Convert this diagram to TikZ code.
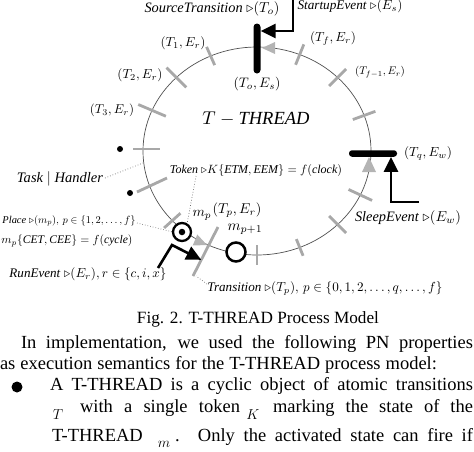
\documentclass[tikz,border=0pt]{standalone}
\usepackage{fontspec}
\setmainfont{Liberation Serif}
\usepackage{graphicx}
\usetikzlibrary{arrows.meta,calc}
\definecolor{tickgray}{RGB}{168,168,168}
\definecolor{headgray}{RGB}{180,180,180}
\definecolor{ringgray}{RGB}{80,80,80}
\definecolor{dotgray}{RGB}{110,110,110}
\newcommand\fw[2]{\resizebox{#1pt}{!}{#2}}
\newcommand\bodyfont{\fontsize{18.5pt}{18.5pt}\selectfont}
\newcommand\smallmath[1]{{\fontsize{15pt}{15pt}\selectfont$#1$}}
\begin{document}
\begin{tikzpicture}[x=1pt,y=-1pt,
  ring/.style={draw=ringgray,line width=0.7pt},
  tickline/.style={draw=tickgray,line width=2.8pt},
  dotlead/.style={draw=dotgray,line width=0.7pt,dotted},
  evarrow/.style={draw=black,line width=2.6pt,-{Triangle[length=15pt,width=14pt]}},
  lbl/.style={inner sep=0pt,outer sep=0pt},
  bodyline/.style={inner sep=0pt,outer sep=0pt,anchor=base west,font=\bodyfont},
  placenode/.style={circle,draw=black,fill=white,line width=2.3pt,minimum size=18pt,inner sep=0pt},
  tokennode/.style={circle,fill=black,minimum size=6.5pt,inner sep=0pt},
  barnode/.style={fill=black,inner sep=0pt},
  dotnode/.style={circle,fill=black,minimum size=6pt,inner sep=0pt}
]
\useasboundingbox (0,0) rectangle (474,451);

\coordinate (C) at (257,151);
% cycle
\draw[ring] (C) ellipse [x radius=114pt, y radius=104pt];

% ticks on the cycle
\foreach \a/\i/\o in {246/10/10, 225/14/14, 203/15/15, 138/11/11, 90/10/10, 68/9/9, 45/12/12, 25/13/13, -20/12/12, -45/12/12, -68/11/11}{
  \draw[tickline] ({257+(114-\i)*cos(\a)},{151+(104-\i)*sin(\a)}) -- ({257+(114+\o)*cos(\a)},{151+(104+\o)*sin(\a)});
}
% ticks with handler dots
\draw[tickline] (133,149) -- (160,149);
\node[dotnode] (d1) at (120,149) {};
\draw[tickline] (137,192) -- (167,178);
\node[dotnode] (d2) at (130,193) {};

% transition T_p
\coordinate (tp1) at (193,276);
\coordinate (tp2) at (218,227);
\draw[tickline] (tp1) -- (tp2);

% gray flow heads
\fill[headgray] (262,48) -- (275,42) -- (275,54) -- cycle;
\fill[headgray] (369,157) -- (362,172) -- (376,172) -- cycle;
\fill[headgray] (207,245) -- (197.3,234.5) -- (192.7,245.5) -- cycle;

% dotted leaders
\draw[dotlead] (105,178) -- (143,163);
\draw[dotlead] (196,176) -- (187,224);
\draw[dotlead] (137,223) -- (173,232);
\draw[dotlead] (207,284) -- (196,276);

% bars
\node[barnode,rounded corners=3.5pt,minimum width=7pt,minimum height=50pt] (To) at (257,48.5) {};
\node[barnode,rounded corners=3pt,minimum width=48pt,minimum height=6.5pt] (Tq) at (373,153.5) {};

% places
\node[placenode] (mp) at (182,232) {};
\node[tokennode] (tok) at (mp) {};
\node[placenode,minimum size=19pt,line width=2.5pt] (mp1) at (236,252) {};

% event arrows
\coordinate (se) at (293,-3);
\draw[evarrow] (se) |- ([yshift=17.5pt]To.east);
\coordinate (sl) at (419,202);
\draw[evarrow] (sl) -| ([xshift=18pt]Tq.south);
\coordinate (re0) at (158,268);
\coordinate (re1) at (172,245);
\draw[evarrow] (re0) -- (re1) -- ($(tp1)!0.33!(tp2)$);

% labels
\node[lbl] (lsrc) at (212,9) {\fw{135}{\textit{SourceTransition} $\triangleright(T_o)$}};
\node[lbl] (lstart) at (350,6) {\fw{105}{\textit{StartupEvent} $\triangleright(E_s)$}};
\node[lbl] (lto) at (257,84) {\fw{47}{$(T_o,E_s)$}};
\node[lbl] (lt1) at (183,43) {\fw{45}{$(T_1,E_r)$}};
\node[lbl] (lt2) at (140,75) {\fw{45}{$(T_2,E_r)$}};
\node[lbl] (lt3) at (112,110) {\fw{44}{$(T_3,E_r)$}};
\node[lbl] (ltf) at (333,38) {\fw{46}{$(T_f,E_r)$}};
\node[lbl] (ltf1) at (380,72) {\fw{50}{$(T_{f-1},E_r)$}};
\node[lbl] (lthr) at (256,119) {\fw{107}{$T-\mathit{THREAD}$}};
\node[lbl] (ltask) at (60,179) {\fw{86}{\textit{Task} $|$ \textit{Handler}}};
\node[lbl] (ltok) at (256,170) {\fw{172}{\textit{Token} $\triangleright K\{\mathit{ETM},\mathit{EEM}\}=f(\mathit{clock})$}};
\node[lbl] (ltq) at (428,153) {\fw{48}{$(T_q,E_w)$}};
\node[lbl] (lsleep) at (408,218) {\fw{106}{\textit{SleepEvent} $\triangleright(E_w)$}};
\node[lbl] (lmp) at (202,215) {\fw{19}{$m_p$}};
\node[lbl] (ltp) at (237,210) {\fw{49}{$(T_p,E_r)$}};
\node[lbl] (lmp1) at (245,229) {\fw{35}{$m_{p+1}$}};
\node[lbl] (lplace) at (69,221) {\fw{133}{\textit{Place} $\triangleright(m_p),\,p\in\{1,2,\ldots,f\}$}};
\node[lbl] (lcet) at (67,241) {\fw{131}{$m_p\{\mathit{CET},\mathit{CEE}\}=f(\mathit{cycle})$}};
\node[lbl] (lrun) at (88,274) {\fw{157}{\textit{RunEvent} $\triangleright(E_r),r\in\{c,i,x\}$}};
\node[lbl] (ltrans) at (325,288) {\fw{235}{\textit{Transition} $\triangleright(T_p),\,p\in\{0,1,2,\ldots,q,\ldots,f\}$}};

% caption
\node[lbl] (cap) at (258,319) {\fw{242}{Fig. 2. T-THREAD Process Model}};

% body text
\node[bodyline] (b1) at (21,348) {\makebox[452pt][s]{In implementation, we used the following PN properties}};
\node[bodyline] (b2) at (0,369) {\makebox[437pt][s]{as execution semantics for the T-THREAD process model:}};
\node[circle,fill=black,minimum size=11pt,inner sep=0pt] (bul) at (17,387) {};
\node[bodyline] (b3) at (50,390) {\makebox[423pt][s]{A T-THREAD is a cyclic object of atomic transitions}};
\node[lbl] (b4t) at (58,415) {\smallmath{T}};
\node[bodyline] (b4a) at (80,412) {\makebox[160pt][s]{with a single token}};
\node[lbl] (b4k) at (253,415) {\smallmath{K}};
\node[bodyline] (b4b) at (273,412) {\makebox[200pt][s]{marking the state of the}};
\node[bodyline] (b5a) at (52,441) {T-THREAD};
\node[lbl] (b5m) at (164,444) {\smallmath{m}};
\node[bodyline] (b5b) at (175,441) {\makebox[298pt][s]{. Only the activated state can fire if}};
\end{tikzpicture}
\end{document}
